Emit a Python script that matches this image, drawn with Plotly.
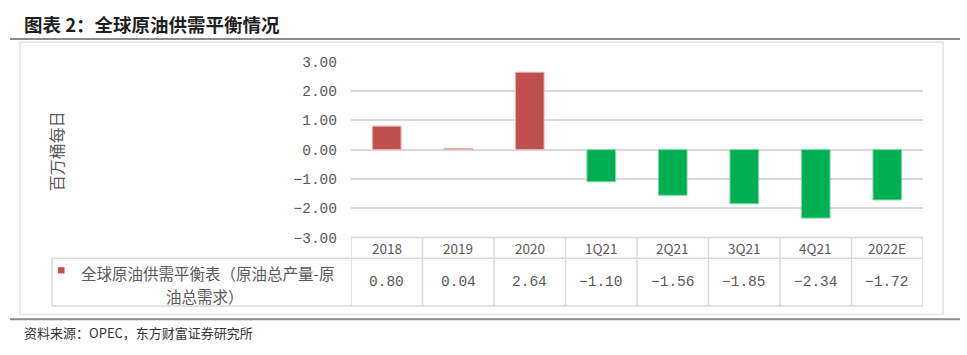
import plotly.graph_objects as go

# ---------------- data ----------------
categories = ["2018", "2019", "2020", "1Q21", "2Q21", "3Q21", "4Q21", "2022E"]
balance = [0.80, 0.04, 2.64, -1.10, -1.56, -1.85, -2.34, -1.72]
y_ticks = [-3, -2, -1, 0, 1, 2, 3]
title_text = "图表 2：全球原油供需平衡情况"
series_line1 = "全球原油供需平衡表（原油总产量-原"
series_line2 = "油总需求）"
y_title = "百万桶每日"
source_text = "资料来源：OPEC，东方财富证券研究所"

# ---------------- layout helpers ----------------
W, H = 967, 355
def fx(p):
    return p / W
def fy(p):
    return 1 - p / H

X0, X1 = 351, 923          # plot area left/right (px)
Y_TOP, Y_BOT = 57.3, 241.3  # pixel rows of +3 and -3
HDR_BOT, TBL_BOT = 263, 313
LEG_LEFT = 52

RED = "#C0504D"
GREEN = "#00B050"
GRID = "#D9D9D9"
TXT = "#595959"
CJK = "Noto Sans CJK SC"
MONO = "Liberation Mono"

colors = [RED if v >= 0 else GREEN for v in balance]
edges = ["#E6B2B1" if v >= 0 else "#7FD7A8" for v in balance]

fig = go.Figure(
    go.Bar(
        x=categories,
        y=balance,
        width=0.4,
        marker=dict(color=colors, line=dict(color=edges, width=1)),
        hoverinfo="x+y",
    )
)

shapes = []
# outer frame
shapes.append(dict(type="rect", xref="paper", yref="paper",
                   x0=fx(20), x1=fx(943), y0=fy(322), y1=fy(37),
                   line=dict(color="#E3E3E3", width=1.5), layer="below"))
# title rule and footer rule
shapes.append(dict(type="line", xref="paper", yref="paper",
                   x0=fx(10), x1=fx(960), y0=fy(33.5), y1=fy(33.5),
                   line=dict(color="#8C8C8C", width=2)))
shapes.append(dict(type="line", xref="paper", yref="paper",
                   x0=fx(10), x1=fx(960), y0=fy(327), y1=fy(327),
                   line=dict(color="#8C8C8C", width=2)))
# table horizontal lines
shapes.append(dict(type="line", xref="paper", yref="paper",
                   x0=fx(X0), x1=fx(X1), y0=fy(Y_BOT), y1=fy(Y_BOT),
                   line=dict(color=GRID, width=1.5)))
for yy in (HDR_BOT, TBL_BOT):
    shapes.append(dict(type="line", xref="paper", yref="paper",
                       x0=fx(LEG_LEFT), x1=fx(X1), y0=fy(yy), y1=fy(yy),
                       line=dict(color=GRID, width=1.5)))
# table vertical lines at category boundaries
for k in range(len(categories) + 1):
    shapes.append(dict(type="line", xref="x", yref="paper",
                       x0=k - 0.5, x1=k - 0.5, y0=fy(TBL_BOT), y1=fy(Y_BOT),
                       line=dict(color=GRID, width=1.5)))
shapes.append(dict(type="line", xref="paper", yref="paper",
                   x0=fx(LEG_LEFT), x1=fx(LEG_LEFT), y0=fy(TBL_BOT), y1=fy(HDR_BOT),
                   line=dict(color=GRID, width=1.5)))
# legend marker
shapes.append(dict(type="rect", xref="paper", yref="paper",
                   x0=fx(58), x1=fx(64.5), y0=fy(279), y1=fy(272.5),
                   fillcolor=RED, line=dict(width=0)))

annotations = []
annotations.append(dict(text=title_text, xref="paper", yref="paper",
                        x=fx(22), y=fy(18), xanchor="left", yanchor="middle",
                        showarrow=False,
                        font=dict(family=CJK, size=18.5, color="#1F1F1F", weight="bold")))
annotations.append(dict(text=source_text, xref="paper", yref="paper",
                        x=fx(22), y=fy(341), xanchor="left", yanchor="middle",
                        showarrow=False,
                        font=dict(family=CJK, size=13, color="#333333")))
annotations.append(dict(text=y_title, xref="paper", yref="paper",
                        x=fx(55.5), y=fy(151.5), xanchor="center", yanchor="middle",
                        textangle=-90, showarrow=False,
                        font=dict(family=CJK, size=16, color=TXT)))
annotations.append(dict(text=series_line1,
                        xref="paper", yref="paper",
                        x=fx(207.5), y=fy(279), xanchor="center", yanchor="middle",
                        showarrow=False,
                        font=dict(family=CJK, size=15.5, color=TXT)))
annotations.append(dict(text=series_line2,
                        xref="paper", yref="paper",
                        x=fx(205), y=fy(302.5), xanchor="center", yanchor="middle",
                        showarrow=False,
                        font=dict(family=CJK, size=15.5, color=TXT)))
for i, (c, v) in enumerate(zip(categories, balance)):
    annotations.append(dict(text=c, xref="x", yref="paper",
                            x=i, y=fy(252.5), xanchor="center", yanchor="middle",
                            showarrow=False,
                            font=dict(family=CJK, size=13.5, color=TXT)))
    label = f"{v:.2f}".replace("-", "\u2212")
    annotations.append(dict(text=label, xref="x", yref="paper",
                            x=i, y=fy(288), xanchor="center", yanchor="middle",
                            showarrow=False,
                            font=dict(family=MONO, size=14.5, color=TXT)))

fig.update_layout(
    width=W, height=H,
    margin=dict(l=0, r=0, t=0, b=0),
    paper_bgcolor="white", plot_bgcolor="white",
    showlegend=False,
    shapes=shapes,
    annotations=annotations,
    xaxis=dict(domain=[fx(X0), fx(X1)], range=[-0.5, len(categories) - 0.5],
               showticklabels=False, showgrid=False, zeroline=False,
               showline=False, ticks="", fixedrange=True),
    yaxis=dict(domain=[fy(Y_BOT), fy(Y_TOP)], range=[-3, 3],
               tickvals=y_ticks, tickformat=".2f",
               showgrid=True, gridcolor=GRID, gridwidth=1.5,
               zeroline=False, showline=False, ticks="",
               ticklabelstandoff=13,
               tickfont=dict(family=MONO, size=14.5, color=TXT),
               fixedrange=True),
)

fig.write_html("out.html",
               config={"displayModeBar": False},
               post_script="document.body.style.margin='0';document.body.style.overflow='hidden';")
